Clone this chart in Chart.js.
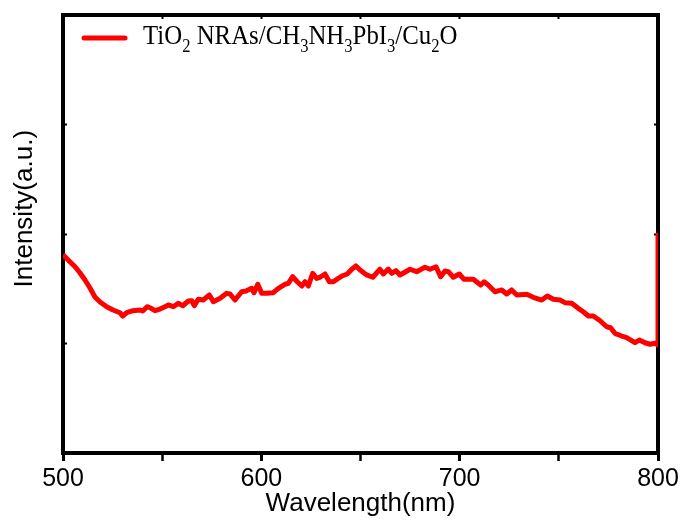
<!DOCTYPE html>
<html>
<head>
<meta charset="utf-8">
<title>PL spectrum</title>
<script src="https://cdn.jsdelivr.net/npm/chart.js@4.4.1/dist/chart.umd.min.js"></script>
<style>
  html, body { margin: 0; padding: 0; background: #fff; }
  canvas { display: block; }
</style>
</head>
<body>
<canvas id="plChart" width="684" height="522"></canvas>
<script>
// values (wavelength in nm, intensity in arbitrary units)
const wavelength = [
  500.0, 503.5, 506.1, 508.6, 511.1, 513.6, 516.1, 518.7, 522.0, 525.2,
  528.7, 530.1, 532.1, 535.3, 538.8, 540.2, 542.4, 544.2, 546.4, 548.9,
  551.4, 553.1, 555.6, 558.1, 560.4, 563.2, 564.9, 566.2, 568.2, 570.7,
  573.8, 575.8, 579.2, 582.5, 584.2, 586.7, 590.1, 592.3, 595.1, 596.3,
  598.2, 600.2, 602.7, 606.0, 608.6, 611.9, 613.6, 615.8, 618.1, 620.4,
  622.0, 623.7, 625.9, 627.9, 629.6, 632.1, 634.3, 636.3, 638.8, 641.0,
  643.3, 645.6, 647.7, 649.8, 653.1, 656.2, 659.8, 661.5, 664.0, 665.7,
  667.9, 669.9, 675.0, 678.3, 682.5, 685.0, 688.1, 690.4, 692.6, 694.3,
  696.8, 699.8, 702.2, 706.9, 710.6, 712.3, 714.4, 717.8, 721.2, 723.7,
  726.2, 728.8, 733.8, 737.1, 741.4, 744.2, 747.2, 750.6, 753.1, 756.5,
  759.8, 762.3, 764.9, 767.4, 770.8, 774.1, 776.1, 778.3, 781.7, 784.2,
  788.4, 790.6, 793.4, 796.0, 798.5, 800.0, 800.0
];
const intensity = [
  1.810, 1.747, 1.701, 1.644, 1.580, 1.507, 1.425, 1.379, 1.336, 1.306,
  1.281, 1.251, 1.281, 1.300, 1.306, 1.297, 1.336, 1.324, 1.300, 1.315,
  1.336, 1.352, 1.336, 1.367, 1.345, 1.388, 1.391, 1.345, 1.404, 1.397,
  1.443, 1.382, 1.413, 1.458, 1.452, 1.397, 1.473, 1.479, 1.504, 1.464,
  1.541, 1.458, 1.458, 1.464, 1.504, 1.541, 1.550, 1.610, 1.564, 1.525,
  1.564, 1.525, 1.641, 1.595, 1.605, 1.635, 1.564, 1.564, 1.595, 1.619,
  1.635, 1.678, 1.708, 1.671, 1.626, 1.605, 1.678, 1.635, 1.680, 1.641,
  1.665, 1.626, 1.678, 1.656, 1.696, 1.678, 1.701, 1.610, 1.662, 1.656,
  1.605, 1.635, 1.586, 1.586, 1.534, 1.564, 1.534, 1.473, 1.489, 1.452,
  1.489, 1.443, 1.449, 1.422, 1.397, 1.434, 1.404, 1.397, 1.373, 1.367,
  1.321, 1.290, 1.251, 1.251, 1.208, 1.153, 1.144, 1.093, 1.068, 1.053,
  1.007, 1.032, 1.007, 0.993, 1.002, 0.986, 2.009
];
const xTicks = [500, 600, 700, 800];
const xTitle = 'Wavelength(nm)';
const yTitle = 'Intensity(a.u.)';
// legend text pieces, second item = subscript
const legendParts = [
  ['TiO', false], ['2', true], [' NRAs/CH', false], ['3', true], ['NH', false],
  ['3', true], ['PbI', false], ['3', true], ['/Cu', false], ['2', true], ['O', false]
];

const sansFont = '"Liberation Sans", Arial, sans-serif';
const serifFont = '"Liberation Serif", "Times New Roman", serif';

// legend drawn inside the plot, top-left, with real subscripts
const insideLegend = {
  id: 'insideLegend',
  afterDatasetsDraw(chart) {
    const ctx = chart.ctx;
    const ds = chart.data.datasets[0];
    const { left, top } = chart.chartArea;
    ctx.save();
    ctx.strokeStyle = ds.borderColor;
    ctx.lineWidth = 5;
    ctx.lineCap = 'round';
    ctx.beginPath();
    ctx.moveTo(left + 21, top + 23);
    ctx.lineTo(left + 62, top + 23);
    ctx.stroke();

    ctx.fillStyle = '#000';
    ctx.textBaseline = 'alphabetic';
    ctx.textAlign = 'left';
    ctx.translate(left + 80, top + 29);
    ctx.scale(0.92, 1);
    let x = 0;
    legendParts.forEach(([txt, sub]) => {
      ctx.font = (sub ? '18px ' : '27px ') + serifFont;
      ctx.fillText(txt, x, sub ? 8 : 0);
      x += ctx.measureText(txt).width;
    });
    ctx.restore();
  }
};

const points = wavelength.map((w, i) => ({ x: w, y: intensity[i] }));

const ctx = document.getElementById('plChart').getContext('2d');
new Chart(ctx, {
  type: 'line',
  data: {
    datasets: [{
      label: 'TiO2 NRAs/CH3NH3PbI3/Cu2O',
      data: points,
      borderColor: '#ff0000',
      backgroundColor: '#ff0000',
      borderWidth: 5,
      pointRadius: 0,
      tension: 0,
      borderJoinStyle: 'round'
    }]
  },
  options: {
    responsive: false,
    animation: false,
    events: [],
    layout: { padding: 0 },
    plugins: {
      legend: { display: false },
      tooltip: { enabled: false }
    },
    scales: {
      x: {
        type: 'linear',
        position: 'bottom',
        min: 500,
        max: 800,
        afterFit: s => { s.height = 69; },
        ticks: {
          stepSize: 50,
          autoSkip: false,
          maxRotation: 0,
          padding: 3,
          color: '#000',
          font: { family: sansFont, size: 25 },
          callback: v => xTicks.includes(v) ? String(v) : ''
        },
        grid: {
          drawOnChartArea: false,
          drawTicks: true,
          tickLength: 8,
          // minor ticks (550, 650, 750) a bit lighter than the labelled ones
          tickWidth: c => (c.tick && xTicks.includes(c.tick.value)) ? 3 : 2.5,
          lineWidth: 3,
          tickColor: '#000',
          color: '#000'
        },
        border: { display: true, color: '#000', width: 4 },
        title: {
          display: true,
          text: xTitle,
          color: '#000',
          font: { family: sansFont, size: 26 },
          padding: { top: 0, bottom: 3 }
        }
      },
      xTop: {
        type: 'linear',
        position: 'top',
        min: 500,
        max: 800,
        afterFit: s => { s.height = 15; },
        ticks: { display: false, stepSize: 50 },
        grid: { drawOnChartArea: false, tickLength: -4, tickWidth: 2, tickColor: '#000' },
        border: { display: true, color: '#000', width: 4 }
      },
      y: {
        position: 'left',
        min: 0,
        max: 4,
        afterFit: s => { s.width = 63; },
        ticks: { display: false, stepSize: 1 },
        grid: { drawOnChartArea: false, tickLength: -4, tickWidth: 2, tickColor: '#000' },
        border: { display: true, color: '#000', width: 4 },
        title: {
          display: true,
          // leading spaces push the title up, as in the original
          text: ' '.repeat(7) + yTitle,
          color: '#000',
          font: { family: sansFont, size: 26 },
          padding: { top: 9, bottom: 0 }
        }
      },
      yRight: {
        position: 'right',
        min: 0,
        max: 4,
        afterFit: s => { s.width = 26; },
        ticks: { display: false, stepSize: 1 },
        grid: { drawOnChartArea: false, tickLength: -4, tickWidth: 2, tickColor: '#000' },
        border: { display: true, color: '#000', width: 4 }
      }
    }
  },
  plugins: [insideLegend]
});
</script>
</body>
</html>
